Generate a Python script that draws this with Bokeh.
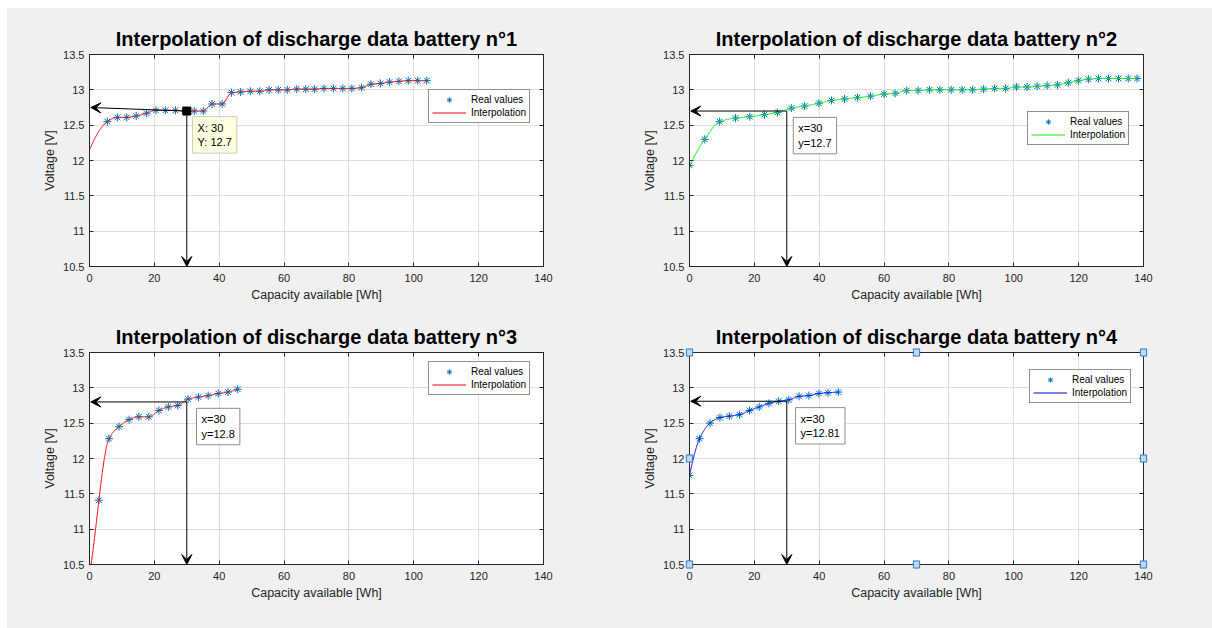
import numpy as np
from bokeh.plotting import figure
from bokeh.models import (Arrow, VeeHead, Label, LinearAxis, FixedTicker, Legend,
                          LegendItem, Range1d, Spacer)
from bokeh.layouts import row, column
from bokeh.embed import file_html
from bokeh.resources import INLINE

# ---------------------------------------------------------------- data
# battery n°1
cap1 = [5.5, 8.6, 11.5, 14.4, 17.6, 20.5, 23.4, 26.5, 29.4, 32.3, 35.1, 37.8, 40.9,
        43.8, 46.6, 49.6, 52.5, 55.4, 58.2, 61.0, 63.9, 66.7, 69.4, 72.3, 75.2, 78.1,
        80.9, 83.9, 86.8, 89.7, 92.5, 95.4, 98.3, 101.2, 104.0]
volt1 = [12.55, 12.61, 12.61, 12.63, 12.67, 12.71, 12.71, 12.71, 12.70, 12.70, 12.70,
         12.80, 12.80, 12.96, 12.97, 12.98, 12.98, 13.00, 13.00, 13.00, 13.01, 13.01,
         13.01, 13.02, 13.02, 13.02, 13.02, 13.03, 13.08, 13.09, 13.11, 13.12, 13.13,
         13.13, 13.13]
origin1_cap = 0.0     # empty-battery knot of the n°1 interpolation
origin1_volt = 12.15

# battery n°2
cap2 = [0.0, 4.7, 9.3, 14.2, 18.6, 23.1, 27.1, 31.4, 35.5, 39.9, 43.8, 47.8, 51.8,
        55.8, 60.0, 63.4, 67.0, 70.5, 74.0, 77.2, 80.7, 84.1, 87.3, 90.7, 94.1, 97.5,
        100.8, 104.1, 107.2, 110.3, 113.5, 116.8, 119.9, 123.0, 126.1, 129.2, 132.3,
        135.3, 138.0]
volt2 = [11.93, 12.30, 12.55, 12.60, 12.62, 12.65, 12.68, 12.74, 12.77, 12.81, 12.85,
         12.87, 12.89, 12.91, 12.94, 12.95, 12.99, 12.99, 13.00, 13.00, 13.00, 13.00,
         13.00, 13.01, 13.02, 13.02, 13.04, 13.04, 13.05, 13.06, 13.07, 13.10, 13.13,
         13.15, 13.16, 13.16, 13.16, 13.16, 13.16]

# battery n°3
cap3 = [2.9, 6.0, 9.1, 12.2, 15.2, 18.3, 21.4, 24.3, 27.2, 30.4, 33.6, 36.6, 39.7,
        42.7, 45.7]
volt3 = [11.41, 12.28, 12.45, 12.55, 12.59, 12.59, 12.68, 12.73, 12.75, 12.84, 12.87,
         12.89, 12.92, 12.94, 12.98]

# battery n°4
cap4 = [0.0, 3.1, 6.3, 9.4, 12.3, 15.4, 18.5, 21.5, 24.5, 27.5, 30.6, 33.8, 36.8,
        39.9, 42.7, 45.9]
volt4 = [11.76, 12.28, 12.50, 12.58, 12.60, 12.62, 12.68, 12.73, 12.78, 12.81, 12.83,
         12.88, 12.89, 12.92, 12.93, 12.94]

# read-out at 30 Wh for each battery: (capacity, voltage, text)
query_cap = [30, 30, 30, 30]
query_volt = [12.7, 12.7, 12.8, 12.81]
query_text = ["X: 30\nY: 12.7", "x=30\ny=12.7", "x=30\ny=12.8", "x=30\ny=12.81"]
# where the horizontal arrows end on the voltage axis
arrow_end_volt = [12.75, 12.7, 12.8, 12.81]

# edit handles shown around the n°4 axes
handle_cap = [0, 70, 140, 0, 140, 0, 70, 140]
handle_volt = [13.5, 13.5, 13.5, 12.0, 12.0, 10.5, 10.5, 10.5]

# axes
x_ticks = [0, 20, 40, 60, 80, 100, 120, 140]
y_ticks = [10.5, 11.0, 11.5, 12.0, 12.5, 13.0, 13.5]
y_tick_labels = ["10.5", "11", "11.5", "12", "12.5", "13", "13.5"]

titles = ["Interpolation of discharge data battery n°%d" % k for k in (1, 2, 3, 4)]
line_colors = ["#ff0000", "#00ff00", "#ff0000", "#0000ff"]

FONT = "Liberation Sans"
AXIS_COL = "#262626"
FIG_BG = "#f0f0f0"


def pchip(x, y, xq):
    """Shape-preserving piecewise cubic Hermite interpolation (with extrapolation)."""
    x = np.asarray(x, float)
    y = np.asarray(y, float)
    xq = np.asarray(xq, float)
    h = np.diff(x)
    delta = np.diff(y) / h
    n = len(x)
    d = np.zeros(n)
    for k in range(1, n - 1):
        if delta[k - 1] * delta[k] > 0:
            w1 = 2 * h[k] + h[k - 1]
            w2 = h[k] + 2 * h[k - 1]
            d[k] = (w1 + w2) / (w1 / delta[k - 1] + w2 / delta[k])

    def end_slope(h0, h1, d0, d1):
        s = ((2 * h0 + h1) * d0 - h0 * d1) / (h0 + h1)
        if np.sign(s) != np.sign(d0):
            s = 0.0
        elif np.sign(d0) != np.sign(d1) and abs(s) > abs(3 * d0):
            s = 3 * d0
        return s

    d[0] = end_slope(h[0], h[1], delta[0], delta[1])
    d[-1] = end_slope(h[-1], h[-2], delta[-1], delta[-2])

    idx = np.clip(np.searchsorted(x, xq) - 1, 0, n - 2)
    hk = h[idx]
    s = (xq - x[idx]) / hk
    h00 = 2 * s**3 - 3 * s**2 + 1
    h10 = s**3 - 2 * s**2 + s
    h01 = -2 * s**3 + 3 * s**2
    h11 = s**3 - s**2
    return h00 * y[idx] + h10 * hk * d[idx] + h01 * y[idx + 1] + h11 * hk * d[idx + 1]


def panel(k, cap, volt, knots_x, knots_y, width, height, right_border, bottom_border,
          legend_xy, tip_xy, tip_style):
    p = figure(width=width, height=height, x_range=Range1d(0, 140),
               y_range=Range1d(10.5, 13.5), output_backend="svg", toolbar_location=None,
               min_border_left=82, min_border_right=right_border, min_border_top=46,
               min_border_bottom=bottom_border, border_fill_color=FIG_BG,
               background_fill_color="white", outline_line_color=AXIS_COL,
               outline_line_width=1, title=titles[k])
    p.title.align = "center"
    p.title.text_font = FONT
    p.title.text_font_size = "20px"
    p.title.text_font_style = "bold"
    p.title.text_color = "black"
    p.title.standoff = 10

    p.xaxis.ticker = FixedTicker(ticks=x_ticks)
    p.yaxis.ticker = FixedTicker(ticks=y_ticks)
    p.yaxis.major_label_overrides = dict(zip(y_ticks, y_tick_labels))
    p.xaxis.axis_label = "Capacity available [Wh]"
    p.yaxis.axis_label = "Voltage [V]"
    for ax in (p.xaxis, p.yaxis):
        ax.axis_line_color = AXIS_COL
        ax.major_tick_line_color = AXIS_COL
        ax.major_tick_in = 4
        ax.major_tick_out = 0
        ax.minor_tick_line_color = None
        ax.major_label_text_font = FONT
        ax.major_label_text_font_size = "11px"
        ax.major_label_text_color = AXIS_COL
        ax.axis_label_text_font = FONT
        ax.axis_label_text_font_size = "12.5px"
        ax.axis_label_text_font_style = "normal"
        ax.axis_label_text_color = AXIS_COL
        ax.axis_label_standoff = 3
    p.xaxis.major_label_standoff = 7
    p.yaxis.major_label_standoff = 5

    # mirrored ticks on the top and right edges of the box (no labels)
    for side, ticks in (("above", x_ticks), ("right", y_ticks)):
        ax = LinearAxis(ticker=FixedTicker(ticks=ticks), major_label_text_font_size="1px",
                        major_label_text_color=None, major_label_standoff=0,
                        major_tick_in=4, major_tick_out=0, minor_tick_line_color=None,
                        axis_line_color=AXIS_COL, major_tick_line_color=AXIS_COL)
        p.add_layout(ax, side)

    p.grid.grid_line_color = "#dfdfdf"
    p.grid.grid_line_width = 1

    xs = np.linspace(0, cap[-1], 900)
    ys = pchip(knots_x, knots_y, xs)

    r_pts = p.scatter(cap, volt, marker="asterisk", size=8, line_color="#0072bd",
                      line_width=1)
    r_line = p.line(xs, ys, line_color=line_colors[k], line_width=1)

    legend = Legend(items=[LegendItem(label="Real values", renderers=[r_pts]),
                           LegendItem(label="Interpolation", renderers=[r_line])],
                    location=legend_xy, orientation="vertical", margin=0, padding=3,
                    spacing=0, glyph_width=34, glyph_height=13, label_height=13,
                    label_standoff=5, label_text_font=FONT, label_text_font_size="10px",
                    label_text_color="black", border_line_color=AXIS_COL,
                    border_line_width=1, background_fill_color="white",
                    background_fill_alpha=1)
    p.add_layout(legend)

    qx, qy = query_cap[k], query_volt[k]
    head = dict(size=10, fill_color="black", line_color="black", line_width=1)
    p.add_layout(Arrow(x_start=qx, y_start=qy, x_end=0.4, y_end=arrow_end_volt[k],
                       end=VeeHead(**head), line_color="black", line_width=1))
    p.add_layout(Arrow(x_start=qx, y_start=qy, x_end=qx, y_end=10.5,
                       end=VeeHead(**head), line_color="black", line_width=1))

    if tip_style == "datatip":
        p.scatter([qx], [qy], marker="square", size=8, fill_color="black",
                  line_color="black")
        bg, border = "#ffffe1", "#c9c9b8"
    else:
        bg, border = "white", "#8f8f8f"
    p.add_layout(Label(x=tip_xy[0], y=tip_xy[1], text=query_text[k], anchor="top_left",
                       text_font=FONT, text_font_size="11px", text_color="black",
                       background_fill_color=bg, border_line_color=border,
                       border_line_width=1, padding=5, text_line_height=1.2))
    return p


p1 = panel(0, cap1, volt1, [origin1_cap] + cap1, [origin1_volt] + volt1, 600, 298, 64, 40,
           (339, 143), (31.8, 12.62), "datatip")
p2 = panel(1, cap2, volt2, cap2, volt2, 605, 298, 69, 40, (338, 121), (32.0, 12.61), "box")
p3 = panel(2, cap3, volt3, cap3, volt3, 600, 322, 64, 64, (339, 169), (33.0, 12.71), "box")
p4 = panel(3, cap4, volt4, cap4, volt4, 605, 322, 69, 64, (340, 161), (32.7, 12.72), "box")

# small square edit handles on the n°4 axes box; kept in a side panel so that
# they are not cut by the edges of the plotting area
for hx, hy in zip(handle_cap, handle_volt):
    p4.add_layout(Label(x=hx, y=hy, text=" ", text_font_size="1px", anchor="center",
                        padding=3, background_fill_color="#bcd8f2",
                        border_line_color="#2f7bc4", border_line_width=1), "right")

bg = {"background-color": FIG_BG}
grid = column(row(p1, p2, styles=bg, spacing=0), row(p3, p4, styles=bg, spacing=0),
              styles=bg, spacing=0)
page = column(Spacer(width=1212, height=8), row(Spacer(width=7, height=620), grid))

open("out.html", "w").write(file_html(page, INLINE))
